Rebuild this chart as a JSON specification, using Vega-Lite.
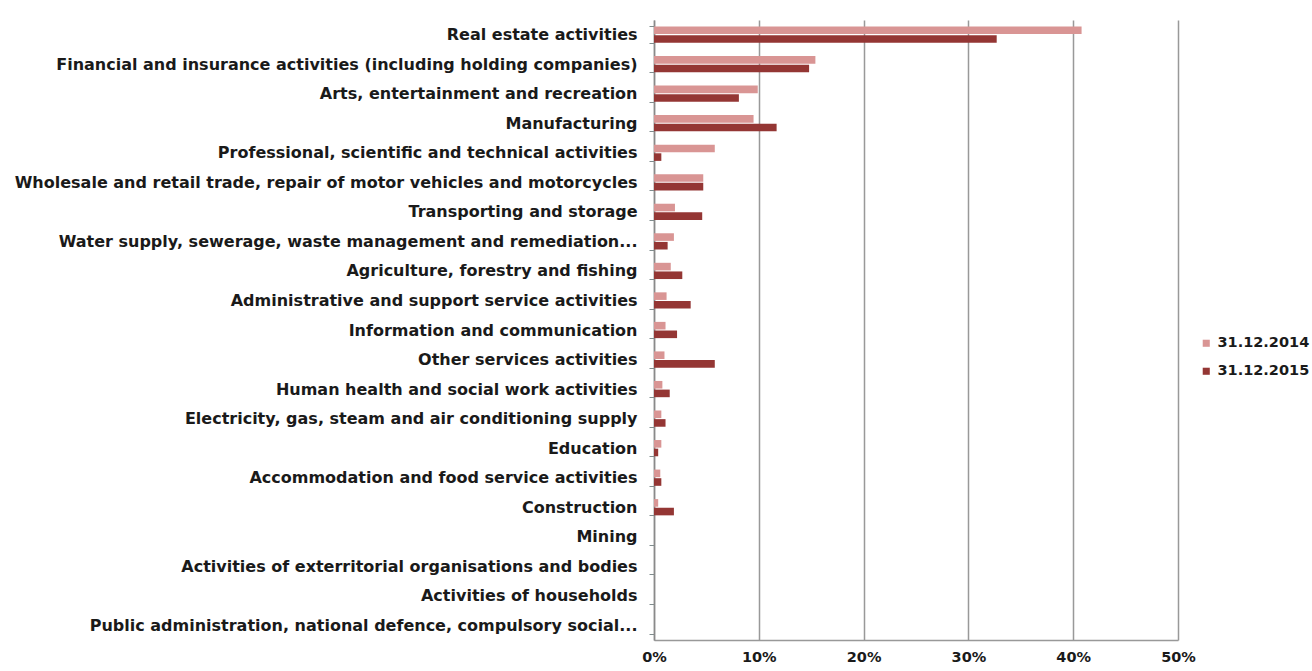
{
  "$schema": "https://vega.github.io/schema/vega-lite/v6.json",
  "autosize": {"type": "none"},
  "padding": {"left": 654, "top": 20, "right": 134, "bottom": 31},
  "width": 524,
  "height": 620,
  "background": "white",
  "config": {"view": {"stroke": null}, "font": "DejaVu Sans"},
  "data": {"values": [
    {"activity": "Real estate activities", "date": "31.12.2014", "share": 0.408},
    {"activity": "Real estate activities", "date": "31.12.2015", "share": 0.327},
    {"activity": "Financial and insurance activities (including holding companies)", "date": "31.12.2014", "share": 0.154},
    {"activity": "Financial and insurance activities (including holding companies)", "date": "31.12.2015", "share": 0.148},
    {"activity": "Arts, entertainment and recreation", "date": "31.12.2014", "share": 0.099},
    {"activity": "Arts, entertainment and recreation", "date": "31.12.2015", "share": 0.081},
    {"activity": "Manufacturing", "date": "31.12.2014", "share": 0.095},
    {"activity": "Manufacturing", "date": "31.12.2015", "share": 0.117},
    {"activity": "Professional, scientific and technical activities", "date": "31.12.2014", "share": 0.058},
    {"activity": "Professional, scientific and technical activities", "date": "31.12.2015", "share": 0.007},
    {"activity": "Wholesale and retail trade, repair of motor vehicles and motorcycles", "date": "31.12.2014", "share": 0.047},
    {"activity": "Wholesale and retail trade, repair of motor vehicles and motorcycles", "date": "31.12.2015", "share": 0.047},
    {"activity": "Transporting and storage", "date": "31.12.2014", "share": 0.020},
    {"activity": "Transporting and storage", "date": "31.12.2015", "share": 0.046},
    {"activity": "Water supply, sewerage, waste management and remediation...", "date": "31.12.2014", "share": 0.019},
    {"activity": "Water supply, sewerage, waste management and remediation...", "date": "31.12.2015", "share": 0.013},
    {"activity": "Agriculture, forestry and fishing", "date": "31.12.2014", "share": 0.016},
    {"activity": "Agriculture, forestry and fishing", "date": "31.12.2015", "share": 0.027},
    {"activity": "Administrative and support service activities", "date": "31.12.2014", "share": 0.012},
    {"activity": "Administrative and support service activities", "date": "31.12.2015", "share": 0.035},
    {"activity": "Information and communication", "date": "31.12.2014", "share": 0.011},
    {"activity": "Information and communication", "date": "31.12.2015", "share": 0.022},
    {"activity": "Other services activities", "date": "31.12.2014", "share": 0.010},
    {"activity": "Other services activities", "date": "31.12.2015", "share": 0.058},
    {"activity": "Human health and social work activities", "date": "31.12.2014", "share": 0.008},
    {"activity": "Human health and social work activities", "date": "31.12.2015", "share": 0.015},
    {"activity": "Electricity, gas, steam and air conditioning supply", "date": "31.12.2014", "share": 0.007},
    {"activity": "Electricity, gas, steam and air conditioning supply", "date": "31.12.2015", "share": 0.011},
    {"activity": "Education", "date": "31.12.2014", "share": 0.007},
    {"activity": "Education", "date": "31.12.2015", "share": 0.004},
    {"activity": "Accommodation and food service activities", "date": "31.12.2014", "share": 0.006},
    {"activity": "Accommodation and food service activities", "date": "31.12.2015", "share": 0.007},
    {"activity": "Construction", "date": "31.12.2014", "share": 0.004},
    {"activity": "Construction", "date": "31.12.2015", "share": 0.019},
    {"activity": "Mining", "date": "31.12.2014", "share": 0},
    {"activity": "Mining", "date": "31.12.2015", "share": 0},
    {"activity": "Activities of exterritorial organisations and bodies", "date": "31.12.2014", "share": 0},
    {"activity": "Activities of exterritorial organisations and bodies", "date": "31.12.2015", "share": 0},
    {"activity": "Activities of households", "date": "31.12.2014", "share": 0},
    {"activity": "Activities of households", "date": "31.12.2015", "share": 0},
    {"activity": "Public administration, national defence, compulsory social...", "date": "31.12.2014", "share": 0},
    {"activity": "Public administration, national defence, compulsory social...", "date": "31.12.2015", "share": 0}
  ]},
  "mark": {"type": "bar"},
  "encoding": {
    "y": {
      "field": "activity", "type": "nominal", "sort": null,
      "scale": {"paddingInner": 0.45, "paddingOuter": 0.22},
      "axis": {
        "title": null, "labelLimit": 0, "labelFontSize": 16, "labelFontWeight": "bold",
        "labelColor": "#1a1a1a", "labelPadding": 12, "tickBand": "extent",
        "tickColor": "#7f8c8d", "tickSize": 5, "domainColor": "#8a8a8a", "domainWidth": 1.5
      }
    },
    "yOffset": {"field": "date", "type": "nominal", "sort": ["31.12.2014", "31.12.2015"], "scale": {"paddingInner": 0.12}},
    "x": {
      "field": "share", "type": "quantitative",
      "scale": {"domain": [0, 0.5], "nice": false},
      "axis": {
        "title": null, "format": ".0%", "values": [0, 0.1, 0.2, 0.3, 0.4, 0.5],
        "labelFontSize": 14.5, "labelFontWeight": "bold", "labelColor": "#1a1a1a", "labelFlush": false,
        "grid": true, "gridColor": "#999999", "gridWidth": 1.5,
        "domainColor": "#999999", "domainWidth": 1.5, "ticks": false, "labelPadding": 10
      }
    },
    "color": {
      "field": "date", "type": "nominal",
      "scale": {"domain": ["31.12.2014", "31.12.2015"], "range": ["#d99594", "#943634"]},
      "legend": {
        "title": null, "orient": "none", "legendX": 545, "legendY": 316,
        "symbolType": "square", "symbolSize": 50, "labelFontSize": 14.5,
        "labelFontWeight": "bold", "labelColor": "#1a1a1a", "rowPadding": 13, "symbolStrokeWidth": 0
      }
    }
  }
}
